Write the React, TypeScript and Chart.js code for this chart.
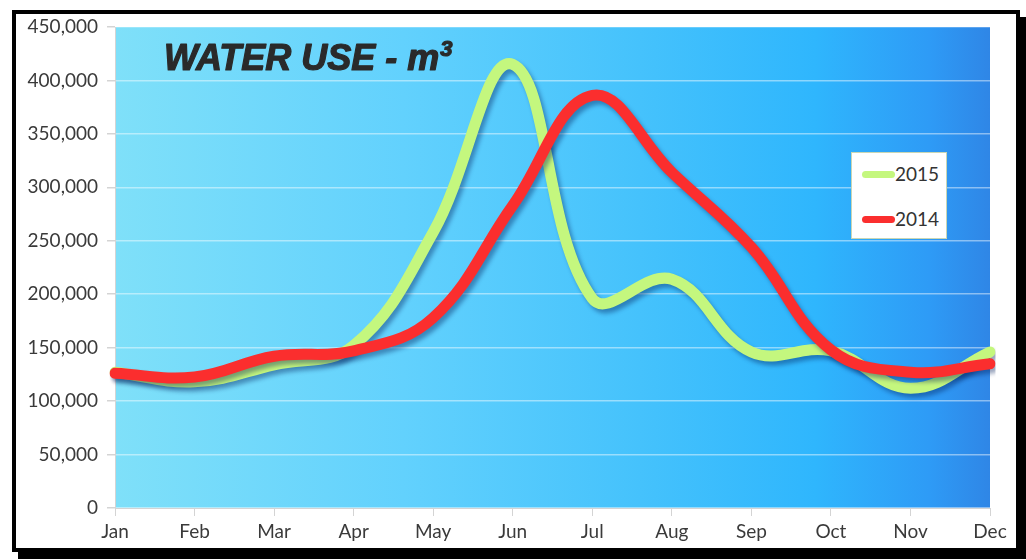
import React, { useEffect, useRef } from "react";
import { Chart, registerables } from "chart.js";

Chart.register(...registerables);

const months = ["Jan", "Feb", "Mar", "Apr", "May", "Jun", "Jul", "Aug", "Sep", "Oct", "Nov", "Dec"];
const use2015 = [127000, 118000, 134000, 152000, 258000, 415000, 196000, 214000, 146000, 147000, 112000, 146000];
const use2014 = [126000, 122500, 142000, 147000, 178000, 283000, 386000, 314000, 244000, 148000, 127000, 135000];
const legendLabels = ["2015", "2014"];
const chartTitle = "WATER USE - m";
const titleSup = "3";

const GREEN = "#c4f77e";
const RED = "#fb2e2e";
const LABEL_FONT = "Lato, 'Noto Sans', sans-serif";

const bgPlugin = {
  id: "bgPlugin",
  beforeDraw(chart: any) {
    const { ctx, chartArea } = chart;
    const { left, top, right, bottom } = chartArea;
    const g = ctx.createLinearGradient(left, 0, right, 0);
    g.addColorStop(0, "#7fe0f9");
    g.addColorStop(0.33, "#62d1fd");
    g.addColorStop(0.6, "#45c2fc");
    g.addColorStop(0.8, "#2fb6fd");
    g.addColorStop(0.93, "#2e9bf6");
    g.addColorStop(1, "#2f86e6");
    ctx.save();
    ctx.fillStyle = g;
    ctx.fillRect(left, top, right - left, bottom - top);
    ctx.restore();
  },
  afterDraw(chart: any) {
    const { ctx } = chart;
    ctx.save();
    ctx.fillStyle = "#2a2a2a";
    ctx.strokeStyle = "#2a2a2a";
    ctx.lineWidth = 1.2;
    ctx.lineJoin = "round";
    ctx.textBaseline = "alphabetic";
    ctx.font = "italic bold 36px 'Liberation Sans', Arial, sans-serif";
    const x = 164;
    const y = 70;
    ctx.fillText(chartTitle, x, y);
    ctx.strokeText(chartTitle, x, y);
    const w = ctx.measureText(chartTitle).width;
    ctx.font = "italic bold 22px 'Liberation Sans', Arial, sans-serif";
    ctx.fillText(titleSup, x + w + 1, y - 14);
    ctx.strokeText(titleSup, x + w + 1, y - 14);
    ctx.restore();
  },
};

const shadowPlugin = {
  id: "shadowPlugin",
  beforeDatasetDraw(chart: any) {
    const ctx = chart.ctx;
    ctx.save();
    ctx.shadowColor = "rgba(0, 30, 90, 0.4)";
    ctx.shadowBlur = 4;
    ctx.shadowOffsetX = 3;
    ctx.shadowOffsetY = 4;
  },
  afterDatasetDraw(chart: any) {
    chart.ctx.restore();
  },
};

export default function App() {
  const ref = useRef<HTMLCanvasElement | null>(null);

  useEffect(() => {
    if (!ref.current) return;
    const chart = new Chart(ref.current, {
      type: "line",
      data: {
        labels: months,
        datasets: [
          {
            label: legendLabels[0],
            data: use2015,
            borderColor: GREEN,
            borderWidth: 11,
            pointRadius: 0,
            tension: 0.4,
            borderCapStyle: "round",
            borderJoinStyle: "round",
            fill: false,
            order: 1,
          },
          {
            label: legendLabels[1],
            data: use2014,
            borderColor: RED,
            borderWidth: 11,
            pointRadius: 0,
            tension: 0.4,
            borderCapStyle: "round",
            borderJoinStyle: "round",
            fill: false,
            order: 0,
          },
        ],
      },
      options: {
        responsive: false,
        animation: false,
        devicePixelRatio: 1,
        layout: { padding: { top: 27, right: 36, left: 0, bottom: 0 } },
        plugins: {
          legend: { display: false },
          tooltip: { enabled: false },
          title: { display: false },
        },
        scales: {
          x: {
            offset: false,
            afterFit: (s: any) => {
              s.height = 52;
            },
            grid: {
              drawOnChartArea: false,
              drawTicks: true,
              tickLength: 8,
              color: "#d4d4d4",
            },
            border: { display: true, color: "#d4d4d4", width: 1 },
            ticks: {
              color: "#3a3a3a",
              font: { family: LABEL_FONT, size: 19 },
              padding: 4,
              maxRotation: 0,
              autoSkip: false,
            },
          },
          y: {
            min: 0,
            max: 450000,
            afterFit: (s: any) => {
              s.width = 115;
            },
            grid: {
              color: "rgba(255,255,255,0.45)",
              lineWidth: 1.5,
              drawTicks: true,
              tickLength: 8,
              tickColor: "#d4d4d4",
            },
            border: { display: true, color: "#d4d4d4", width: 1 },
            ticks: {
              stepSize: 50000,
              color: "#3a3a3a",
              font: { family: LABEL_FONT, size: 19 },
              padding: 9,
              callback: (v: any) => Number(v).toLocaleString("en-US"),
            },
          },
        },
      },
      plugins: [bgPlugin, shadowPlugin],
    });
    return () => chart.destroy();
  }, []);

  return (
    <div style={{ position: "fixed", left: 0, top: 0, width: 1026, height: 560, background: "#fff", overflow: "hidden" }}>
      <div
        style={{
          position: "absolute",
          left: 12,
          top: 10,
          width: 1000,
          height: 534,
          border: "4px solid #000",
          boxShadow: "6px 7px 0 #000",
          background: "#fff",
        }}
      />
      <canvas ref={ref} width={1026} height={560} style={{ position: "absolute", left: 0, top: 0, width: 1026, height: 560 }} />
      <div
        style={{
          position: "absolute",
          left: 851,
          top: 152,
          width: 96,
          height: 87,
          background: "#fff",
          border: "1px solid #c9d6b4",
          boxSizing: "border-box",
          fontFamily: LABEL_FONT,
          fontSize: 19,
          color: "#333",
        }}
      >
        {legendLabels.map((lab, i) => (
          <div
            key={lab}
            style={{ position: "absolute", left: 10, top: i === 0 ? 9 : 54, display: "flex", alignItems: "center", height: 24 }}
          >
            <span
              style={{
                display: "inline-block",
                width: 33,
                height: 7,
                borderRadius: 4,
                background: i === 0 ? GREEN : RED,
              }}
            />
            <span style={{ lineHeight: "24px" }}>{lab}</span>
          </div>
        ))}
      </div>
    </div>
  );
}
